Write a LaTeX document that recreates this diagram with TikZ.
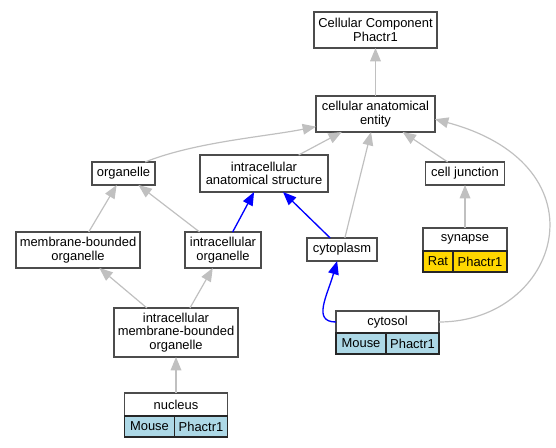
\documentclass[tikz,border=0pt]{standalone}
\usepackage{fontspec}
\setmainfont{Liberation Sans}
\usetikzlibrary{positioning, arrows.meta}
\definecolor{edgegray}{HTML}{C0C0C0}
\definecolor{mouseblue}{HTML}{ADD8E6}
\definecolor{ratgold}{HTML}{FFD700}
\tikzset{>={Triangle[length=10pt, width=8pt]},
	term/.style={draw=black!70, line width=1.3pt, fill=white, inner sep=0pt, outer sep=0pt, align=center},
	cell/.style={draw=black!85, line width=0.9pt, inner sep=0pt, outer sep=0pt},
	boxsize/.style 2 args={minimum width=#1*0.75pt, minimum height=#2*0.75pt},
	is a/.style={->, color=edgegray, line width=0.9pt},
	part of/.style={->, color=blue, line width=1pt}}

\begin{document}
\begin{tikzpicture}[x=0.75pt, y=-0.75pt, every node/.style={font=\fontsize{9.7}{10}\selectfont}]
	\useasboundingbox (0,0) rectangle (556,448);
	\node[term, boxsize={123}{36}] (Component) at (375.5,30) {Cellular Component\\ Phactr1};
	\node[term, boxsize={119}{36}, below=36pt of Component] (Entity) {cellular anatomical\\ entity};
	\node[term, boxsize={63}{23}] (organelle) at (123.5,173.5) {organelle};
	\node[term, boxsize={128}{37}] (structure) at (264,173.5) {intracellular\\ anatomical structure};
	\node[term, boxsize={79}{23}] (cell junction) at (465,173.5) {cell junction};
	\node[term, boxsize={124}{36}] (membrane organelle) at (78,250) {membrane-bounded\\ organelle};
	\node[term, boxsize={76}{36}] (intracellular organelle) at (223,250) {intracellular\\ organelle};
	\node[term, boxsize={70}{23}] (cytoplasm) at (342,249.5) {cytoplasm};
	\node[term, boxsize={124}{49}] (imbo) at (176,332.5) {intracellular\\ membrane-bounded\\ organelle};
	% annotated terms
	\node[term, boxsize={84}{23}] (synapse) at (465,239.5) {synapse};
	\node[cell, fill=ratgold, boxsize={30}{21}, anchor=north west] (synapse Rat) at (synapse.south west) {Rat};
	\node[cell, fill=ratgold, boxsize={54}{21}, anchor=north west] (synapse Phactr1) at (synapse Rat.north east) {Phactr1};
	\node[term, boxsize={103}{22}] (cytosol) at (387.5,322) {cytosol};
	\node[cell, fill=mouseblue, boxsize={50}{21}, anchor=north west] (cytosol Mouse) at (cytosol.south west) {Mouse};
	\node[cell, fill=mouseblue, boxsize={53}{21}, anchor=north west] (cytosol Phactr1) at (cytosol Mouse.north east) {Phactr1};
	\node[term, boxsize={103}{23}] (nucleus) at (176,404.5) {nucleus};
	\node[cell, fill=mouseblue, boxsize={50}{21}, anchor=north west] (nucleus Mouse) at (nucleus.south west) {Mouse};
	\node[cell, fill=mouseblue, boxsize={53}{21}, anchor=north west] (nucleus Phactr1) at (nucleus Mouse.north east) {Phactr1};
	\draw[is a]
		(Entity) edge (Component)
		(structure) edge (Entity)
		(cytoplasm) edge (Entity)
		(cell junction) edge (Entity)
		(synapse) edge (cell junction)
		(membrane organelle) edge (organelle)
		(intracellular organelle) edge (organelle)
		(imbo) edge (membrane organelle)
		(imbo) edge (intracellular organelle)
		(nucleus) edge (imbo);
	\draw[is a] (organelle.28) .. controls +(50,-20) and +(-50,10) .. (Entity.192);
	\draw[is a] (cytosol.east) .. controls +(120,0) and +(174,47) .. (Entity.-5);
	\draw[part of]
		(intracellular organelle) edge (structure)
		(cytoplasm) edge (structure);
	\draw[part of] (cytosol.west) .. controls +(-24,0) and +(-10,35) .. (cytoplasm.247);
\end{tikzpicture}
\end{document}
